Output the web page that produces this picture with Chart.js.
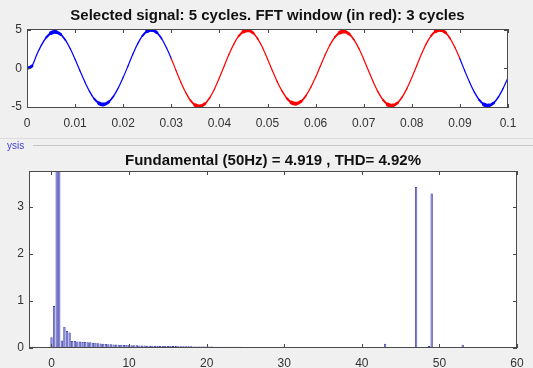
<!DOCTYPE html>
<html>
<head>
<meta charset="utf-8">
<script src="https://cdn.jsdelivr.net/npm/chart.js@4.4.1/dist/chart.umd.min.js"></script>
<style>
  html, body { margin: 0; padding: 0; background: #f0f0f0; }
  body { width: 533px; height: 368px; position: relative; overflow: hidden; font-family: 'Liberation Sans', Arial, sans-serif; }
  #signalBox { position: absolute; left: 0; top: 0; width: 533px; height: 136px; }
  #fftBox { position: absolute; left: 0; top: 148px; width: 533px; height: 220px; }
  .sep { position: absolute; height: 1px; }
  #panelLabel { position: absolute; left: 7px; top: 140px; font-size: 10px; color: #3d3dd6; z-index: 2; }
</style>
</head>
<body>
<div class="sep" style="left:0;top:138px;width:533px;background:#dcdcdc"></div>
<div class="sep" style="left:33px;top:145px;width:500px;background:#c4c4c4"></div>
<div id="panelLabel">ysis</div>
<div id="signalBox"><canvas id="signalChart"></canvas></div>
<div id="fftBox"><canvas id="fftChart"></canvas></div>
<script>
// time signal, one sample per ms (0 .. 0.1 s)
const signalValues = [
  0,
  0.30, 1.75, 3.03, 4.02, 4.61, 4.75, 4.43, 3.67, 2.55, 1.18,
  -0.30, -1.73, -3.00, -3.98, -4.56, -4.70, -4.38, -3.63, -2.52, -1.17,
  0.31, 1.84, 3.19, 4.23, 4.85, 5.00, 4.66, 3.86, 2.68, 1.25,
  -0.31, -1.83, -3.16, -4.19, -4.80, -4.95, -4.61, -3.82, -2.66, -1.23,
  0.31, 1.83, 3.16, 4.19, 4.80, 4.95, 4.61, 3.82, 2.66, 1.23,
  -0.29, -1.70, -2.94, -3.89, -4.47, -4.60, -4.29, -3.55, -2.47, -1.15,
  0.30, 1.77, 3.07, 4.06, 4.66, 4.80, 4.47, 3.71, 2.58, 1.20,
  -0.31, -1.79, -3.10, -4.10, -4.71, -4.85, -4.52, -3.74, -2.60, -1.21,
  0.31, 1.84, 3.19, 4.23, 4.85, 5.00, 4.66, 3.86, 2.68, 1.25,
  -0.31, -1.79, -3.10, -4.10, -4.71, -4.85, -4.52, -3.74, -2.60, -1.21
];
const sampleStep = 0.001;
const fftWindow = [0.03, 0.09];
const signalXTicks = [0, 0.01, 0.02, 0.03, 0.04, 0.05, 0.06, 0.07, 0.08, 0.09, 0.1];
const signalYTicks = [-5, 0, 5];
const signalTitle = 'Selected signal: 5 cycles. FFT window (in red): 3 cycles';

// FFT magnitude (% of fundamental), bins of 1/3 harmonic (50/3 Hz)
const harmonicMag = [
  0.23, 0.89, 22.0, 100, 0.16, 0.45, 0.36, 0.33, 0.15, 0.15,
  0.14, 0.14, 0.13, 0.13, 0.12, 0.12, 0.11, 0.11, 0.10, 0.095,
  0.09, 0.085, 0.08, 0.08, 0.075, 0.075, 0.07, 0.07, 0.065, 0.065,
  0.06, 0.06, 0.058, 0.056, 0.055, 0.053, 0.052, 0.05, 0.05, 0.048,
  0.047, 0.046, 0.045, 0.044, 0.043, 0.042, 0.041, 0.04, 0.04, 0.039,
  0.038, 0.037, 0.036, 0.036, 0.035, 0.034, 0.034, 0.033, 0.032, 0.032,
  0.031, 0.03, 0.03, 0.029, 0.028, 0.028, 0.027, 0.027, 0.026, 0.026,
  0.025, 0.025, 0.024, 0.024, 0.023, 0.023, 0.022, 0.022, 0.021, 0.021,
  0.02, 0.02, 0.02, 0.019, 0.019, 0.018, 0.018, 0.018, 0.017, 0.017,
  0.017, 0.016, 0.016, 0.016, 0.015, 0.015, 0.015, 0.014, 0.014, 0.014,
  0.014, 0.013, 0.013, 0.013, 0.013, 0.012, 0.012, 0.012, 0.012, 0.012,
  0.011, 0.011, 0.011, 0.011, 0.011, 0.011, 0.01, 0.01, 0.01, 0.01,
  0.01, 0.01, 0.01, 0.01, 0.01, 0.01, 0.01, 0.012, 0.015, 0.09,
  0.012, 0.01, 0.01, 0.01, 0.01, 0.01, 0.01, 0.01, 0.012, 0.015,
  0.02, 3.42, 0.02, 0.012, 0.012, 0.015, 0.04, 3.28, 0.02, 0.012,
  0.01, 0.01, 0.01, 0.01, 0.01, 0.01, 0.01, 0.01, 0.012, 0.07,
  0.012, 0.01, 0.01, 0.008, 0.008, 0.008, 0.008, 0.008, 0.008, 0.008,
  0.008, 0.008, 0.008, 0.008, 0.008, 0.008, 0.008, 0.008, 0.008, 0.008, 0.008
];
const binStep = 1 / 3;
const fftXTicks = [0, 10, 20, 30, 40, 50, 60];
const fftYTicks = [0, 1, 2, 3];
const fftTitle = 'Fundamental (50Hz) = 4.919 , THD= 4.92%';

const FONT = "'Liberation Sans', Arial, sans-serif";

// white plot area, boxed axes with inward ticks, title over the axes
const axesBox = {
  id: 'axesBox',
  beforeDraw(chart) {
    const { ctx, chartArea: a } = chart;
    ctx.save();
    ctx.fillStyle = '#ffffff';
    ctx.fillRect(a.left, a.top, a.right - a.left, a.bottom - a.top);
    ctx.restore();
  },
  afterDraw(chart, args, opts) {
    const { ctx, chartArea: a, scales } = chart;
    ctx.save();
    ctx.strokeStyle = '#4a4a4a';
    ctx.lineWidth = 1;
    ctx.beginPath();
    scales.x.ticks.forEach(t => {
      const px = Math.round(scales.x.getPixelForValue(t.value)) + 0.5;
      ctx.moveTo(px, a.bottom); ctx.lineTo(px, a.bottom - 4);
      ctx.moveTo(px, a.top); ctx.lineTo(px, a.top + 4);
    });
    scales.y.ticks.forEach(t => {
      const py = Math.round(scales.y.getPixelForValue(t.value)) + 0.5;
      ctx.moveTo(a.left, py); ctx.lineTo(a.left + 4, py);
      ctx.moveTo(a.right, py); ctx.lineTo(a.right - 4, py);
    });
    ctx.stroke();
    ctx.strokeRect(Math.round(a.left) + 0.5, Math.round(a.top) + 0.5,
      Math.round(a.right - a.left) - 1, Math.round(a.bottom - a.top) - 1);
    ctx.fillStyle = '#111';
    ctx.font = 'bold 15px ' + FONT;
    ctx.textAlign = 'center';
    ctx.textBaseline = 'middle';
    ctx.fillText(opts.text, (a.left + a.right) / 2, opts.y);
    ctx.restore();
  }
};

function tickStyle(padding) {
  return {
    padding: padding,
    color: '#333',
    font: { family: FONT, size: 12 },
    maxRotation: 0,
    autoSkip: false,
    callback: v => String(v)
  };
}

const noGrid = { display: false, drawTicks: false, tickLength: 0 };

// thicker stroke where the wave is flat, to mimic the ripple fuzz at the peaks
function rippleWidth(ctx) {
  const d = Math.abs(ctx.p1.parsed.y - ctx.p0.parsed.y);
  const flat = 1 - Math.min(d / 1.55, 1);
  return 1.2 + 3.6 * Math.pow(flat, 3);
}

new Chart(document.getElementById('signalChart'), {
  type: 'line',
  data: {
    datasets: [{
      data: signalValues.map((v, i) => ({ x: i * sampleStep, y: v })),
      borderColor: '#0000ff',
      borderWidth: 1.2,
      borderCapStyle: 'round',
      pointRadius: 0,
      tension: 0.4,
      segment: {
        borderColor: ctx => (ctx.p0.parsed.x >= fftWindow[0] - 1e-9 && ctx.p1.parsed.x <= fftWindow[1] + 1e-9) ? '#ff0000' : '#0000ff',
        borderWidth: rippleWidth
      }
    }]
  },
  options: {
    animation: false,
    responsive: true,
    maintainAspectRatio: false,
    layout: { padding: { top: 29, right: 25, left: 0, bottom: 0 } },
    plugins: {
      legend: { display: false },
      tooltip: { enabled: false },
      axesBox: { text: signalTitle, y: 15.5 }
    },
    scales: {
      x: {
        type: 'linear',
        min: 0,
        max: 0.1,
        afterBuildTicks: s => { s.ticks = signalXTicks.map(v => ({ value: v })); },
        afterFit: s => { s.height = 28; },
        grid: noGrid,
        border: { display: false },
        ticks: tickStyle(8)
      },
      y: {
        min: -5.17,
        max: 5.13,
        afterBuildTicks: s => { s.ticks = signalYTicks.map(v => ({ value: v })); },
        afterFit: s => { s.width = 27; },
        grid: noGrid,
        border: { display: false },
        ticks: tickStyle(5)
      }
    }
  },
  plugins: [axesBox]
});

new Chart(document.getElementById('fftChart'), {
  type: 'bar',
  data: {
    datasets: [{
      data: harmonicMag.map((v, i) => ({ x: i * binStep, y: v })),
      backgroundColor: '#6f6fd0',
      borderColor: '#3535a8',
      borderWidth: 0.8,
      barPercentage: 0.9,
      categoryPercentage: 1
    }]
  },
  options: {
    animation: false,
    responsive: true,
    maintainAspectRatio: false,
    layout: { padding: { top: 23, right: 16, left: 0, bottom: 0 } },
    plugins: {
      legend: { display: false },
      tooltip: { enabled: false },
      axesBox: { text: fftTitle, y: 12.5 }
    },
    scales: {
      x: {
        type: 'linear',
        offset: false,
        min: -2.9,
        max: 60,
        afterBuildTicks: s => { s.ticks = fftXTicks.map(v => ({ value: v })); },
        afterFit: s => { s.height = 20; },
        grid: noGrid,
        border: { display: false },
        ticks: tickStyle(8)
      },
      y: {
        min: 0,
        max: 3.76,
        afterBuildTicks: s => { s.ticks = fftYTicks.map(v => ({ value: v })); },
        afterFit: s => { s.width = 29; },
        grid: noGrid,
        border: { display: false },
        ticks: tickStyle(5)
      }
    }
  },
  plugins: [axesBox]
});
</script>
</body>
</html>
